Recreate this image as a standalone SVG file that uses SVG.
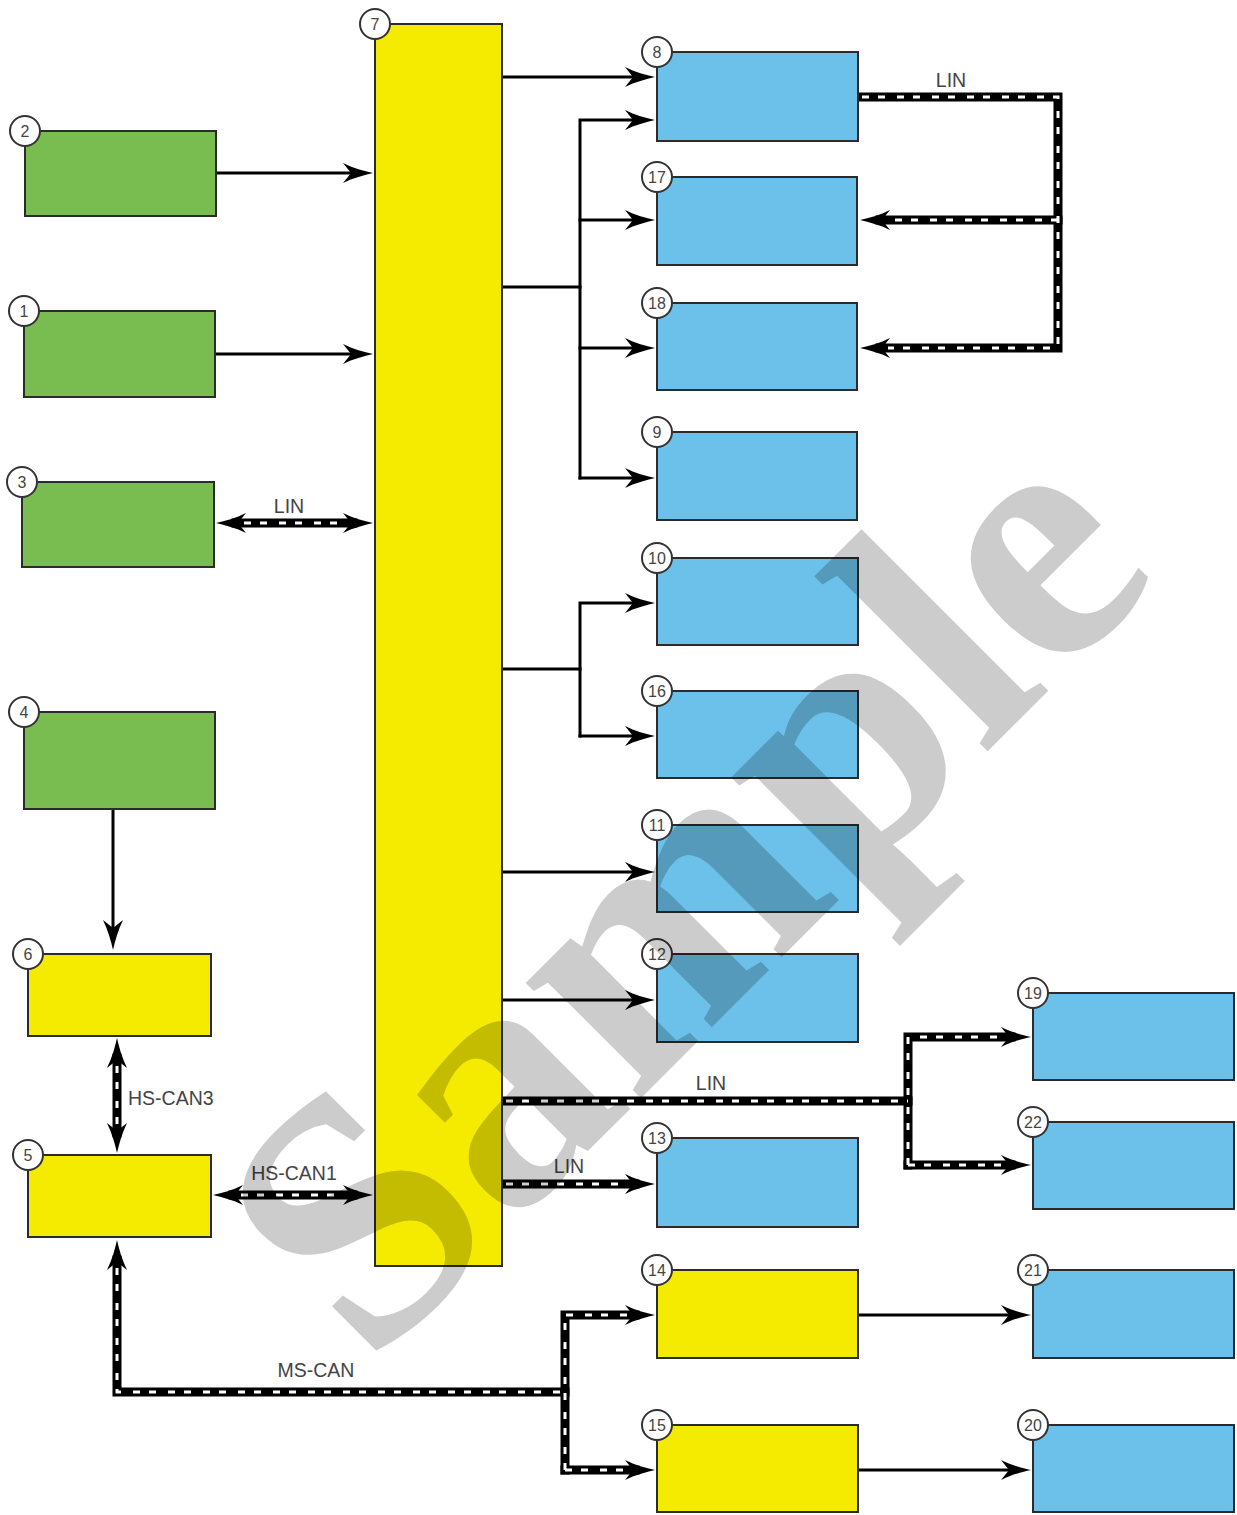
<svg xmlns="http://www.w3.org/2000/svg" width="1237" height="1515" viewBox="0 0 1237 1515">
<style>
.box{stroke:#2b2b2b;stroke-width:2}
.g{fill:#79bd50}
.y{fill:#f5eb00}
.b{fill:#6cc1ea}
.num circle{fill:#fff;stroke:#333;stroke-width:2}
.num text{font-family:"Liberation Sans",Arial,sans-serif;font-size:16px;fill:#444;text-anchor:middle}
.wire{fill:none;stroke:#000;stroke-width:3;stroke-linecap:square}
.bus{fill:none;stroke:#000;stroke-width:9;stroke-linecap:square}
.dash{fill:none;stroke:#fff;stroke-width:3;stroke-dasharray:7 9 7 12}
.lbl{font-family:"Liberation Sans",Arial,sans-serif;font-size:19.5px;fill:#444}
.wm{font-family:"Liberation Serif","Times New Roman",serif;font-weight:bold;font-size:355px;fill:#000;fill-opacity:0.2}
</style>
<defs>
<marker id="ah" markerUnits="userSpaceOnUse" orient="auto-start-reverse" viewBox="-35 -15 40 30" refX="-20" refY="0" markerWidth="40" markerHeight="30" overflow="visible">
<path d="M0,0 C-9,-2 -20,-5 -30,-10 L-22,0 L-30,10 C-20,5 -9,2 0,0 Z" fill="#000"/>
</marker>
</defs>

<g id="connectors">
<path class="wire" d="M216,173 H353" marker-end="url(#ah)"/>
<path class="wire" d="M215,354 H353" marker-end="url(#ah)"/>
<path class="wire" d="M502,77 H635" marker-end="url(#ah)"/>
<path class="wire" d="M502,287 H580"/>
<path class="wire" d="M580,478 V120 H635" marker-end="url(#ah)"/>
<path class="wire" d="M580,220 H635" marker-end="url(#ah)"/>
<path class="wire" d="M580,348 H635" marker-end="url(#ah)"/>
<path class="wire" d="M580,478 H635" marker-end="url(#ah)"/>
<path class="wire" d="M502,669 H580"/>
<path class="wire" d="M580,736 V603 H635" marker-end="url(#ah)"/>
<path class="wire" d="M580,736 H635" marker-end="url(#ah)"/>
<path class="wire" d="M502,872 H635" marker-end="url(#ah)"/>
<path class="wire" d="M502,1000 H635" marker-end="url(#ah)"/>
<path class="wire" d="M113,809 V930" marker-end="url(#ah)"/>
<path class="wire" d="M858,1315 H1011" marker-end="url(#ah)"/>
<path class="wire" d="M858,1470 H1011" marker-end="url(#ah)"/>

<path class="bus" d="M236,523 H353" marker-start="url(#ah)" marker-end="url(#ah)"/>
<path class="bus" d="M858,97 H1058 V348 H880" marker-end="url(#ah)"/>
<path class="bus" d="M1058,220 H880" marker-end="url(#ah)"/>
<path class="bus" d="M502,1101 H908"/>
<path class="bus" d="M908,1165 V1037 H1011" marker-end="url(#ah)"/>
<path class="bus" d="M908,1165 H1011" marker-end="url(#ah)"/>
<path class="bus" d="M502,1184 H635" marker-end="url(#ah)"/>
<path class="bus" d="M117,1058 V1133" marker-start="url(#ah)" marker-end="url(#ah)"/>
<path class="bus" d="M233,1195 H353" marker-start="url(#ah)" marker-end="url(#ah)"/>
<path class="bus" d="M117,1260 V1392 H565" marker-start="url(#ah)"/>
<path class="bus" d="M565,1470 V1315 H635" marker-end="url(#ah)"/>
<path class="bus" d="M565,1470 H635" marker-end="url(#ah)"/>

<path class="dash" d="M244,523 H345"/>
<path class="dash" d="M862,97 H1058 V348 H888"/>
<path class="dash" d="M1058,220 H888"/>
<path class="dash" d="M506,1101 H908"/>
<path class="dash" d="M908,1165 V1037 H1003"/>
<path class="dash" d="M908,1165 H1003"/>
<path class="dash" d="M506,1184 H627"/>
<path class="dash" d="M117,1066 V1125"/>
<path class="dash" d="M241,1195 H345"/>
<path class="dash" d="M117,1268 V1392 H565"/>
<path class="dash" d="M565,1470 V1315 H627"/>
<path class="dash" d="M565,1470 H627"/>

<text class="lbl" x="951" y="87" text-anchor="middle">LIN</text>
<text class="lbl" x="289" y="513" text-anchor="middle">LIN</text>
<text class="lbl" x="128" y="1105">HS-CAN3</text>
<text class="lbl" x="294" y="1180" text-anchor="middle">HS-CAN1</text>
<text class="lbl" x="711" y="1090" text-anchor="middle">LIN</text>
<text class="lbl" x="569" y="1173" text-anchor="middle">LIN</text>
<text class="lbl" x="316" y="1377" text-anchor="middle">MS-CAN</text>
</g>

<g id="node2"><rect class="box g" x="25" y="131" width="191" height="85"/><g class="num"><circle cx="25" cy="131" r="15"/><text x="25" y="137">2</text></g></g>
<g id="node1"><rect class="box g" x="24" y="311" width="191" height="86"/><g class="num"><circle cx="24" cy="311" r="15"/><text x="24" y="317">1</text></g></g>
<g id="node3"><rect class="box g" x="22" y="482" width="192" height="85"/><g class="num"><circle cx="22" cy="482" r="15"/><text x="22" y="488">3</text></g></g>
<g id="node4"><rect class="box g" x="24" y="712" width="191" height="97"/><g class="num"><circle cx="24" cy="712" r="15"/><text x="24" y="718">4</text></g></g>
<g id="node6"><rect class="box y" x="28" y="954" width="183" height="82"/><g class="num"><circle cx="28" cy="954" r="15"/><text x="28" y="960">6</text></g></g>
<g id="node5"><rect class="box y" x="28" y="1155" width="183" height="82"/><g class="num"><circle cx="28" cy="1155" r="15"/><text x="28" y="1161">5</text></g></g>
<g id="node7"><rect class="box y" x="375" y="24" width="127" height="1242"/><g class="num"><circle cx="375" cy="24" r="15"/><text x="375" y="30">7</text></g></g>
<g id="node8"><rect class="box b" x="657" y="52" width="201" height="89"/><g class="num"><circle cx="657" cy="52" r="15"/><text x="657" y="58">8</text></g></g>
<g id="node17"><rect class="box b" x="657" y="177" width="200" height="88"/><g class="num"><circle cx="657" cy="177" r="15"/><text x="657" y="183">17</text></g></g>
<g id="node18"><rect class="box b" x="657" y="303" width="200" height="87"/><g class="num"><circle cx="657" cy="303" r="15"/><text x="657" y="309">18</text></g></g>
<g id="node9"><rect class="box b" x="657" y="432" width="200" height="88"/><g class="num"><circle cx="657" cy="432" r="15"/><text x="657" y="438">9</text></g></g>
<g id="node10"><rect class="box b" x="657" y="558" width="201" height="87"/><g class="num"><circle cx="657" cy="558" r="15"/><text x="657" y="564">10</text></g></g>
<g id="node16"><rect class="box b" x="657" y="691" width="201" height="87"/><g class="num"><circle cx="657" cy="691" r="15"/><text x="657" y="697">16</text></g></g>
<g id="node11"><rect class="box b" x="657" y="825" width="201" height="87"/><g class="num"><circle cx="657" cy="825" r="15"/><text x="657" y="831">11</text></g></g>
<g id="node12"><rect class="box b" x="657" y="954" width="201" height="88"/><g class="num"><circle cx="657" cy="954" r="15"/><text x="657" y="960">12</text></g></g>
<g id="node13"><rect class="box b" x="657" y="1138" width="201" height="89"/><g class="num"><circle cx="657" cy="1138" r="15"/><text x="657" y="1144">13</text></g></g>
<g id="node14"><rect class="box y" x="657" y="1270" width="201" height="88"/><g class="num"><circle cx="657" cy="1270" r="15"/><text x="657" y="1276">14</text></g></g>
<g id="node15"><rect class="box y" x="657" y="1425" width="201" height="87"/><g class="num"><circle cx="657" cy="1425" r="15"/><text x="657" y="1431">15</text></g></g>
<g id="node19"><rect class="box b" x="1033" y="993" width="201" height="87"/><g class="num"><circle cx="1033" cy="993" r="15"/><text x="1033" y="999">19</text></g></g>
<g id="node22"><rect class="box b" x="1033" y="1122" width="201" height="87"/><g class="num"><circle cx="1033" cy="1122" r="15"/><text x="1033" y="1128">22</text></g></g>
<g id="node21"><rect class="box b" x="1033" y="1270" width="201" height="88"/><g class="num"><circle cx="1033" cy="1270" r="15"/><text x="1033" y="1276">21</text></g></g>
<g id="node20"><rect class="box b" x="1033" y="1425" width="201" height="87"/><g class="num"><circle cx="1033" cy="1425" r="15"/><text x="1033" y="1431">20</text></g></g>

<g id="watermark"><text class="wm" x="369" y="1370" transform="rotate(-45 369 1370)">Sample</text></g>
</svg>
